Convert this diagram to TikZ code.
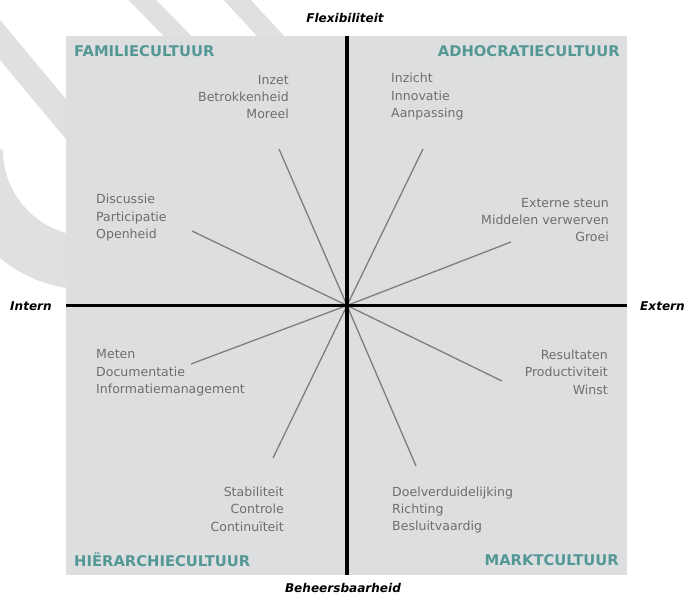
\documentclass[tikz,border=0pt]{standalone}
\usepackage{fontspec}
\setmainfont{DejaVu Sans}
\usepackage{tikz}
\usetikzlibrary{positioning}

\definecolor{boxgrey}{RGB}{221,222,223}
\definecolor{bandgrey}{RGB}{224,224,224}
\definecolor{itemgrey}{RGB}{110,110,110}
\definecolor{spokegrey}{RGB}{125,125,125}
\definecolor{cultteal}{RGB}{84,152,150}

\begin{document}
\begin{tikzpicture}[x=0.03cm,y=-0.03cm,
    item/.style={font=\fontsize{10.7}{14.9}\selectfont,text=itemgrey,inner sep=0pt},
    culture/.style={font=\fontsize{12.6}{15}\selectfont\bfseries,text=cultteal,inner sep=0pt},
    axislabel/.style={font=\fontsize{10.3}{12}\selectfont\bfseries\itshape,inner sep=0pt},
    band/.style={bandgrey,line width=17pt},
    spoke/.style={spokegrey,line width=1.1pt},
    axis/.style={black,line width=2.6pt}]
  \useasboundingbox (0,0) rectangle (686,597);
  % Page decoration
  \begin{scope}
    \clip (0,0) rectangle (686,597);
    \draw[band,line width=46pt] (89,150) ++(180:113) arc[start angle=180,end angle=60,radius=113];
    \draw[band,line width=22pt] (-20,16) -- (110,172);
    \draw[band] (118,-25) -- (230,90);
    \draw[band] (214,-25) -- (330,100);
  \end{scope}
  % Quadrant field
  \fill[boxgrey] (66,36) rectangle (627,575);
  \coordinate (o) at (347,305.5);
  \coordinate (top) at (347,36);
  \coordinate (bottom) at (347,575);
  \coordinate (left) at (66,305.5);
  \coordinate (right) at (627,305.5);
  % Spoke ends
  \coordinate (inzet-end) at (279,149);
  \coordinate (inzicht-end) at (423,149);
  \coordinate (discussie-end) at (192,231);
  \coordinate (extern-end) at (511,242);
  \coordinate (meten-end) at (191,364);
  \coordinate (result-end) at (502,381);
  \coordinate (stabiel-end) at (273,458);
  \coordinate (doel-end) at (416,466);
  \foreach \e in {inzet,inzicht,discussie,extern,meten,result,stabiel,doel}
    \draw[spoke] (o) -- (\e-end);
  % Axes
  \draw[axis] (top) -- (bottom);
  \draw[axis] (left) -- (right);
  \node[axislabel] (flex) at (345,18) {Flexibiliteit};
  \node[axislabel] (beheers) at (343,588) {Beheersbaarheid};
  \node[axislabel,anchor=east] (intern) at (52,306) {Intern};
  \node[axislabel,anchor=west] (extern) at (640,306) {Extern};
  % Cultures
  \node[culture,anchor=west] (familie) at (74,51) {FAMILIECULTUUR};
  \node[culture,anchor=east] (adhoc) at (620,51) {ADHOCRATIECULTUUR};
  \node[culture,anchor=west] (hierarchie) at (74,560) {HIËRARCHIECULTUUR};
  \node[culture,anchor=east] (markt) at (619,560) {MARKTCULTUUR};
  % Values
  \node[item,anchor=east,align=right] (inzet) at (289,97) {Inzet\\Betrokkenheid\\Moreel};
  \node[item,anchor=west,align=left] (inzicht) at (391,97) {Inzicht\\Innovatie\\Aanpassing};
  \node[item,anchor=west,align=left] (discussie) at (96,218) {Discussie\\Participatie\\Openheid};
  \node[item,anchor=east,align=right] (steun) at (609,220) {Externe steun\\Middelen verwerven\\Groei};
  \node[item,anchor=west,align=left] (meten) at (96,373) {Meten\\Documentatie\\Informatiemanagement};
  \node[item,anchor=east,align=right] (result) at (608,372) {Resultaten\\Productiviteit\\Winst};
  \node[item,anchor=east,align=right] (stabiel) at (284,509) {Stabiliteit\\Controle\\Continuïteit};
  \node[item,anchor=west,align=left] (doel) at (392,510) {Doelverduidelijking\\Richting\\Besluitvaardig};
\end{tikzpicture}
\end{document}
